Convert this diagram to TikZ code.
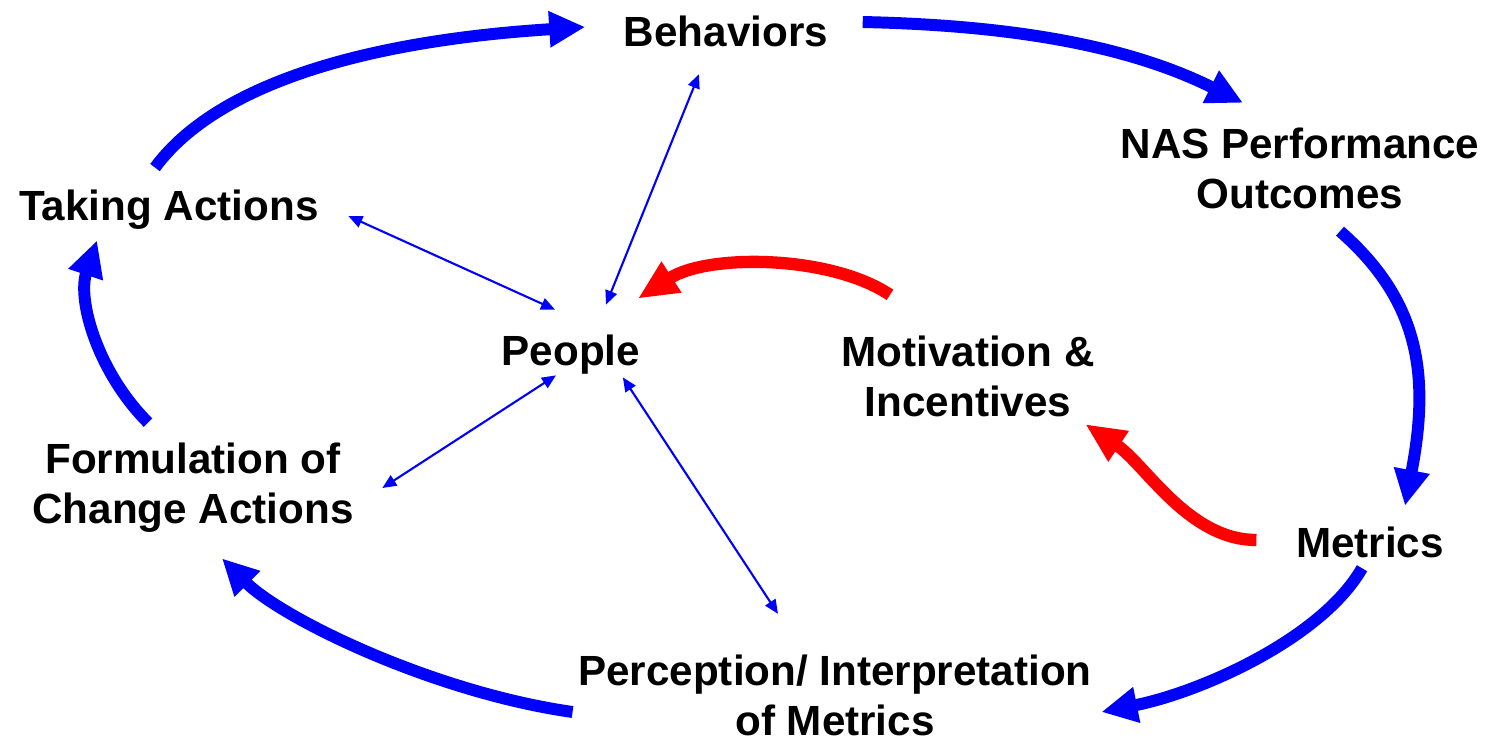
\documentclass[tikz,border=0pt]{standalone}
\usepackage{fontspec}
\setmainfont{Liberation Sans}
\usetikzlibrary{arrows.meta}
\begin{document}
\begin{tikzpicture}[x=0.01cm, y=-0.01cm,
        lbl/.style={font=\fontsize{12}{14.2}\selectfont\bfseries, align=center, inner sep=0pt},
        flow/.style={blue, line width=3.4pt, -{Triangle[length=0.36cm, width=0.34cm]}},
        pull/.style={red, line width=3.5pt, -{Triangle[length=0.4cm, width=0.34cm]}},
        link/.style={blue, line width=0.6pt, {Triangle[length=0.14cm, width=0.12cm]}-{Triangle[length=0.14cm, width=0.12cm]}}]
            \useasboundingbox (0,0) rectangle (1490,739);
            \node[lbl] (beh) at (726,31) {Behaviors};
            \node[lbl] (nas) at (1300,168) {NAS Performance\\Outcomes};
            \node[lbl] (tak) at (169,210) {Taking Actions};
            \node[lbl] (peo) at (571,355) {People};
            \node[lbl] (mot) at (968,376) {Motivation \&\\Incentives};
            \node[lbl] (frm) at (193,488) {Formulation of\\Change Actions};
            \node[lbl] (met) at (1370,542) {Metrics};
            \node[lbl] (per) at (835,695) {Perception/ Interpretation\\of Metrics};
            \draw[flow] ([shift={(-14,-22)}]tak.north) .. controls +(65,-88) and +(-207,13) .. ([shift={(-38,-4)}]beh.west);
            \draw[flow] ([shift={(34,-9)}]beh.east) .. controls +(138,3) and +(-120,-60) .. ([shift={(-57,-24)}]nas.north);
            \draw[flow] ([shift={(40,22)}]nas.south) .. controls +(80,70) and +(25,-130) .. ([shift={(35,-20)}]met.north);
            \draw[flow] ([shift={(-8,10)}]met.south) .. controls +(-40,70) and +(100,-20) .. ([shift={(9,17)}]per.east);
            \draw[flow] ([shift={(-5,17)}]per.west) .. controls +(-140,-20) and +(60,60) .. ([shift={(29,25)}]frm.south);
            \draw[flow] ([shift={(-45,-20)}]frm.north) .. controls +(-50,-50) and +(-20,60) .. ([shift={(-72,10)}]tak.south);
            \draw[pull] ([shift={(-78,-40)}]mot.north) .. controls +(-60,-40) and +(70,-45) .. ([shift={(-3,-36)}]peo.north east);
            \draw[pull] ([shift={(-39,-2)}]met.west) .. controls +(-68,0) and +(60,40) .. ([shift={(-10,7)}]mot.south east);
            \draw[link] ([shift={(35,-30)}]peo.north) -- ([shift={(-27,27)}]beh.south);
            \draw[link] ([shift={(29,6)}]tak.east) -- ([shift={(-16,-25)}]peo.north);
            \draw[link] ([shift={(28,0)}]frm.east) -- ([shift={(-15,0)}]peo.south);
            \draw[link] ([shift={(-18,2)}]peo.south east) -- ([shift={(-57,-40)}]per.north);
        \end{tikzpicture}
\end{document}
